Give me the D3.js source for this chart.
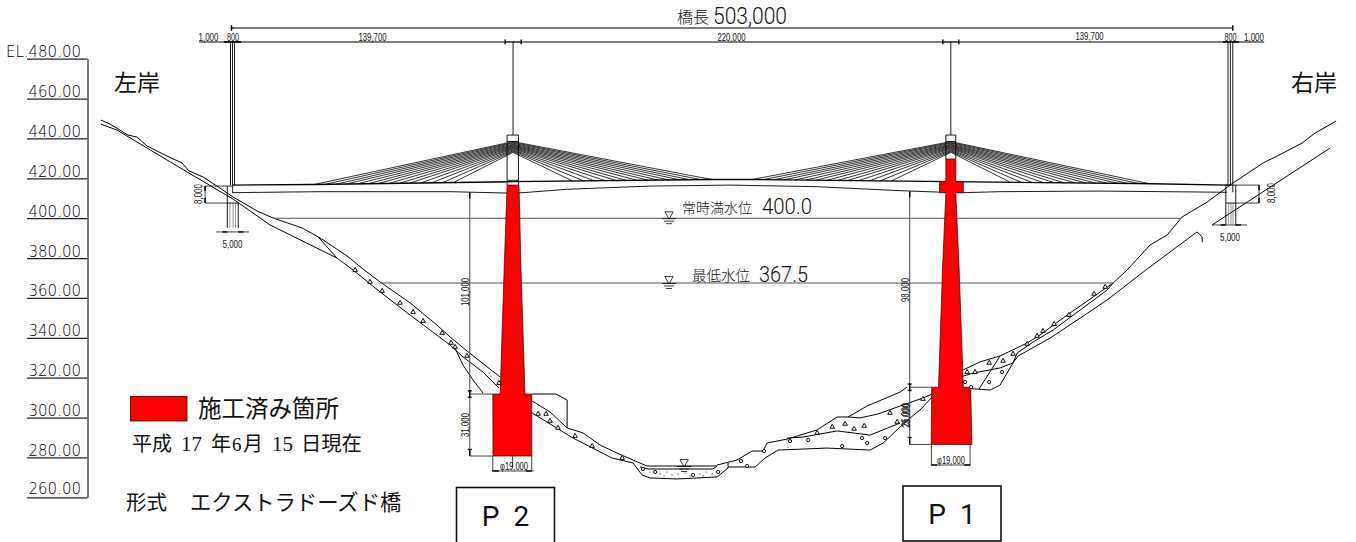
<!DOCTYPE html>
<html lang="ja">
<head>
<meta charset="utf-8">
<title>橋長 503,000</title>
<script src="https://cdn.jsdelivr.net/npm/d3@7"></script>
<style>
  html, body { margin: 0; padding: 0; background: #fff; }
  svg { display: block; }
  text { fill: #111; font-family: "Noto Sans CJK JP", sans-serif; }
  .small { font-family: "Liberation Sans", sans-serif; font-size: 10.5px; }
  .thin { font-family: Roboto, sans-serif; font-weight: 300; }
</style>
</head>
<body>
<svg id="plan" width="1356" height="542"></svg>
<script>
'use strict'

// all series are [station m from left abutment, elevation m]
const elevTicks = [480, 460, 440, 420, 400, 380, 360, 340, 320, 300, 280, 260]

const bankLeftTop = [[-65.7, 449.2], [-61.1, 447.2], [-52.1, 441.7], [-47.5, 440.7], [-42.5, 436.2], [-34.5, 432.2], [-24.9, 427.7], [-21.4, 423.7], [-14.3, 420.7], [-7.3, 416.1], [0.8, 410.6], [12.9, 403.6], [20.9, 400.1], [35.5, 395.1], [44.6, 390.1], [58.2, 381], [66.2, 374.5], [74.8, 368], [89.9, 357.5], [103.4, 346.4], [110, 340.4], [118.5, 333.4], [135.2, 320.3]]
const bankLeftLow = [[-65.7, 447.2], [-57.6, 444.2], [-22.4, 423.2], [0.8, 409.6], [19.4, 396.6], [53.1, 380], [61.2, 374], [74.8, 363], [89.9, 351.4], [110, 336.4], [116.5, 330.4], [126.6, 322.8], [134.6, 314.8]]
const bankLeftShort = [[43.6, 390.6], [53.1, 380]]
const bankLeftRock = [[112.5, 334.9], [116.5, 326.3], [121.6, 318.8], [126.6, 312.3]]

const coveP2 = [[151.3, 311.8], [163.3, 311.8], [168.9, 308.8], [168.9, 294.8]]
const bedLeftTop = [[151.3, 308.3], [160.3, 302.8], [168.9, 294.8], [176.9, 292.3], [185.5, 286.2], [194, 282.2], [202.1, 278.7], [209.1, 275.7]]
const bedLow = [[151.3, 302.3], [171.9, 289.7], [191.5, 279.7], [202.1, 277.2], [206.6, 271.2], [210.6, 269.7], [224.2, 269.2], [244.4, 270.2], [249.9, 274.7], [249.9, 277.2]]
const riverWater = [[209.1, 275.7], [244.4, 275.7]]
const riverBed = [[205.6, 275.2], [209.6, 274.2], [242.3, 274.2], [244.4, 275.7]]

const bedRightTop = [[244.4, 276.2], [254.4, 278.7], [262, 283.2], [267.5, 283.2], [269.5, 287.2], [279.6, 289.2], [294.7, 293.8], [304.8, 300.3], [310.3, 300.3], [319.9, 305.8], [336.5, 312.8], [340, 315.3]]
const bedRightLow = [[249.9, 275.2], [263.5, 275.2], [268.5, 279.7], [275.1, 283.7], [299.7, 284.7], [321.4, 283.7], [327.9, 287.2], [336.5, 295.3], [341.5, 299.8], [346.5, 303.8], [352.6, 310.3]]
const bedRightMid = [[279.6, 289.7], [287.6, 290.2], [304.8, 293.3], [321.4, 291.2], [336.5, 297.3]]
const bedRightUpper = [[310.3, 300.3], [316.3, 299.8], [325.4, 301.8], [336.5, 305.8], [348, 309.8], [352.6, 311.8]]

const bankRightTop = [[368.2, 323.9], [376.7, 327.9], [386.8, 330.9], [400.4, 337.4], [406.9, 341.4], [420.5, 351.4], [443.7, 367.5], [450.7, 374], [462.3, 386.6], [470.9, 391.6], [478.4, 400.6], [491, 408.1], [504.1, 417.7], [519.2, 427.7], [529.2, 432.7], [538.8, 437.7], [545.3, 442.7], [555.9, 448.7]]
const bankRightLow = [[368.2, 314.8], [381.8, 313.8], [386.8, 316.3], [393.3, 327.4], [395.9, 330.9], [412, 339.9], [427.1, 349.9], [440.7, 359], [460.8, 374.5], [485.9, 393.1], [488.5, 390.6], [488.5, 388]]
const bankRightMid = [[368.2, 320.8], [373.2, 322.3], [386.8, 324.9], [393.3, 327.4], [395.4, 332.4], [403.4, 337.9], [413.5, 343.9], [440.7, 364], [443.7, 367.5]]
const bankRightSlip = [[376.2, 314.3], [386.8, 330.9]]
const bankRightRock = [[493.5, 396.6], [552.9, 435.2]]

const gravelTriangles = [[62.2, 374], [69.7, 368], [75.8, 363.5], [84.8, 357.5], [91.4, 352.9], [96.4, 348.4], [106, 342.4], [110.5, 337.4], [112.5, 335.4], [118.5, 330.9], [134.6, 317.3], [154.3, 301.8], [158.3, 301.8], [160.3, 298.3], [164.3, 294.8], [172.9, 290.7], [181.5, 285.7], [196.6, 279.7], [294.7, 292.3], [302.3, 295.3], [308.8, 296.8], [313.3, 294.3], [318.4, 295.8], [331.4, 302.3], [335, 297.8], [348, 309.3], [370.2, 322.8], [374.2, 322.8], [381.3, 327.4], [388.3, 328.4], [393.3, 331.9], [400.4, 336.9], [405.4, 340.9], [408.4, 343.4], [414, 346.9], [421.5, 351.4], [434.1, 362], [439.7, 365.5]]
const gravelCircles = [[207.1, 274.2], [213.2, 272.7], [232.3, 271.2], [244.9, 272.7], [256.4, 278.2], [259.5, 275.7], [268, 283.2], [281.1, 288.2], [290.2, 288.7], [307.3, 285.7], [317.3, 289.7], [319.9, 287.2], [328.9, 289.7], [369.2, 317.8], [372.2, 315.3], [381.3, 317.8], [387.8, 322.8]]
const sandDots = [[210.6, 272.7], [215.7, 271.7], [219.2, 272.7], [221.7, 271.2], [228.3, 272.2], [230.8, 270.7], [235.8, 271.7], [238.8, 272.7], [237.3, 270.7], [241.9, 271.7], [217.7, 270.7], [224.7, 271.7], [129.6, 322.3], [130.6, 320.8], [279.6, 288.7], [280.1, 285.2]]

const deckTop = [[0.3, 416.6], [41, 416.9], [141.2, 418.3], [241.9, 419.4], [262, 419.4], [361.6, 418.3], [455.8, 417.4], [502.6, 416.6]]
const deckBottom = [[0.3, 412.8], [44.6, 413.3], [110, 413.3], [138.7, 412.6], [146.7, 412.8], [168.9, 414.5], [210.6, 416.1], [250.9, 416.6], [294.7, 415.8], [336.5, 413.8], [355.6, 413.1], [368.2, 412.8], [386.8, 413.3], [437.1, 413.6], [501, 413]]

const pylonStations = [141.7, 362]
const cableReach = [30, 35.5, 41, 46.5, 52, 57, 62.5, 68, 73, 78.5, 84, 89, 94.5, 100]
const cableAnchor = [433, 433.4, 433.8, 434.2, 434.7, 435.1, 435.5, 435.9, 436.3, 436.7, 437.1, 437.6, 438, 438.4]

const pierP2 = [[138.7, 416.6], [144.7, 416.6], [145.7, 374], [147.7, 311.8], [151.1, 311.8], [151.1, 280.7], [131.6, 280.7], [131.5, 311.8], [135.2, 311.8], [137.2, 374]]
const pierP1 = [[359.5, 429.7], [364.5, 429.7], [364.5, 418.3], [368.3, 418.3], [368.3, 412.8], [364.5, 412.8], [366.2, 374], [368.3, 315.2], [372, 315.2], [372.6, 286.5], [352.1, 286.5], [352.4, 315.2], [355.8, 315.2], [357.8, 374], [359.5, 412.8], [356.3, 412.8], [356.3, 418.3], [359.5, 418.3]]

// tower outlines and abutments, [s1, e1, s2, e2]
const blackLines = [
  [138.7, 441.7, 144.4, 441.7], [138.7, 441.7, 138.7, 416.6], [144.4, 441.7, 144.4, 416.6],
  [138.7, 438.5, 144.4, 438.5], [138.7, 419, 144.4, 419], [141.7, 488.4, 141.7, 441.7],
  [359.5, 441.7, 364.5, 441.7], [359.5, 441.7, 359.5, 429.7], [364.5, 441.7, 364.5, 429.7],
  [359.5, 438.5, 364.5, 438.5], [362, 488.4, 362, 441.7],
  [-0.5, 488.4, -0.5, 416.6], [0.5, 488.4, 0.5, 416.6], [1.5, 488.4, 1.5, 416.6],
  [501.5, 488.4, 501.5, 416.6], [502.7, 488.4, 502.7, 416.6], [503.9, 488.4, 503.9, 416.6],
  [-2.1, 416.1, 0.6, 416.1], [-2.1, 416.1, -2.1, 407.6], [-2.1, 407.6, 3.4, 407.6], [0.6, 416.1, 0.6, 412.8],
  [-2.1, 407.6, -2.1, 395.1], [3.4, 407.6, 3.4, 395.1],
  [500.4, 416.6, 505.4, 416.6], [500.4, 416.6, 500.4, 407.6], [505.4, 416.6, 505.4, 396.6], [500.4, 407.6, 505.4, 407.6],
  [500.4, 407.6, 500.4, 396.6], [503.9, 416.6, 503.9, 413]
]
const pileLines = [
  [-0.8, 407.6, -0.8, 395.1], [0.8, 407.6, 0.8, 395.1], [2, 407.6, 2, 395.1],
  [501.8, 407.6, 501.8, 396.6], [503, 407.6, 503, 396.6], [504, 407.6, 504, 396.6]
]
const topDimLines = [[0, 495.4, 503.9, 495.4], [-16.3, 488.4, 519.7, 488.4]]
const greyLines = [
  [20.9, 400, 477.4, 400], [74.8, 367.5, 443.7, 367.5],
  [119.9, 412.8, 119.9, 280.7], [119.9, 311.8, 131.5, 311.8], [119.9, 280.7, 131.5, 280.7],
  [341.3, 413.3, 341.3, 286.5], [341.3, 315.2, 352.4, 315.2], [341.3, 286.5, 352.1, 286.5]
]
const leaderLines = [
  [-13.3, 416.1, -2.1, 416.1], [-13.3, 407.6, -2.1, 407.6], [-13.3, 416.1, -13.3, 407.6],
  [505.4, 416.6, 517.1, 416.6], [505.4, 407.6, 517.1, 407.6], [517.1, 416.6, 517.1, 407.6],
  [-7.8, 393.1, 8.8, 393.1], [493.5, 396.6, 511.1, 396.6],
  [131.5, 280.7, 131.5, 273.2], [151.1, 280.7, 151.1, 273.2], [131, 273.2, 152, 273.2], [141.5, 280.7, 141.5, 275],
  [352.2, 286.5, 352.2, 276.2], [371.7, 286.5, 371.7, 276.2], [352, 276.2, 372, 276.2],
  [137.7, 488.4, 145.8, 488.4], [358, 488.4, 366, 488.4], [-3.8, 488.4, 4.8, 488.4], [499, 488.4, 507, 488.4],
  [-0.5, 495.4, 1.5, 495.4]
]
// heavy arrow and bar ends of the dimension lines
const dimEnds = [
  [119.9, 413, 119.9, 410], [118.9, 313.4, 120.9, 313.4], [119.9, 313.4, 119.9, 310.2], [118.9, 310.2, 120.9, 310.2],
  [119.9, 284, 119.9, 280.7], [118.9, 284, 120.9, 284],
  [341.3, 413.5, 341.3, 410.5], [340.3, 316.8, 342.3, 316.8], [341.3, 316.8, 341.3, 313.6], [340.3, 313.6, 342.3, 313.6],
  [341.3, 290, 341.3, 286.5], [340.3, 290, 342.3, 290],
  [137.7, 489.6, 137.7, 487.2], [145.8, 489.6, 145.8, 487.2], [358, 489.6, 358, 487.2], [366, 489.6, 366, 487.2],
  [-3.8, 488.4, 4.8, 488.4], [499, 488.4, 507, 488.4], [0, 496.8, 0, 494], [503.9, 496.8, 503.9, 494],
  [-13.3, 416.1, -13.3, 413.6], [-13.3, 410.2, -13.3, 407.6], [517.1, 416.6, 517.1, 414], [517.1, 410.2, 517.1, 407.6],
  [-4.6, 393.1, -2.1, 393.1], [3.4, 393.1, 6, 393.1], [497.8, 396.6, 500.4, 396.6], [505.4, 396.6, 508, 396.6],
  [131.5, 273.2, 134.5, 273.2], [148.1, 273.2, 151.1, 273.2], [352.2, 276.2, 355.2, 276.2], [368.7, 276.2, 371.7, 276.2]
]
const waterMarks = [[220.2, 400], [220.2, 367.5]]
const riverMark = [227.8, 275.7]

const x = d3.scaleLinear().domain([0, 503]).range([231.5, 1231])
const y = d3.scaleLinear().domain([260, 480]).range([497.3, 58.7])

const svg = d3.select('#plan')
const line = d3.line().x(d => x(d[0])).y(d => y(d[1]))

function drawPolylines (series, width) {
  svg.append('g').selectAll('path').data(series).join('path')
    .attr('d', line)
    .attr('fill', 'none')
    .attr('stroke', '#000')
    .attr('stroke-width', width)
}

function drawSegments (segments, colour, width) {
  svg.append('g').selectAll('line').data(segments).join('line')
    .attr('x1', d => x(d[0])).attr('y1', d => y(d[1]))
    .attr('x2', d => x(d[2])).attr('y2', d => y(d[3]))
    .attr('stroke', colour)
    .attr('stroke-width', width)
}

// elevation staff on the left
const axis = svg.append('g')
  .attr('transform', 'translate(87.5,0)')
  .call(d3.axisLeft(y).tickValues(elevTicks).tickSize(60.5).tickSizeOuter(0).tickFormat(d3.format('.2f')))
axis.select('.domain').attr('stroke', '#222').attr('stroke-width', 1.2)
axis.selectAll('line').attr('stroke', '#222').attr('stroke-width', 1.2)
axis.selectAll('text')
  .attr('x', -6.5)
  .attr('dy', d => d === 260 ? -3.5 : -2)
  .attr('text-anchor', 'end')
  .style('font-family', 'DejaVu Sans')
  .style('font-weight', 200)
  .style('font-size', '15px')
  .style('fill', '#000')
  .text(d => (d === 480 ? 'EL.' : '') + d3.format('.2f')(d))

drawPolylines([bankLeftTop, bankLeftLow, bankLeftShort, bankLeftRock, coveP2, bedLeftTop, bedLow, riverBed,
  bedRightTop, bedRightLow, bedRightMid, bedRightUpper, bankRightTop, bankRightLow, bankRightMid, bankRightSlip, bankRightRock], 1)
drawPolylines([riverWater], 1.2)

drawSegments(topDimLines, '#555', 1.5)
drawSegments(greyLines, '#555', 1.1)
drawSegments(leaderLines, '#111', 0.8)
drawSegments(pileLines, '#555', 0.6)
drawSegments(dimEnds, '#000', 1.4)

// cables hang off the deck top line
const deckAt = d3.scaleLinear().domain(deckTop.map(d => d[0])).range(deckTop.map(d => d[1]))
const cables = []
pylonStations.forEach(s => {
  cableReach.forEach((r, i) => {
    cables.push([s, cableAnchor[i], s - r, deckAt(s - r)])
    cables.push([s, cableAnchor[i], s + r, deckAt(s + r)])
  })
})
drawSegments(cables, '#000', 0.8)

drawPolylines([deckBottom], 0.9)
drawPolylines([deckTop], 1.3)

// concrete already placed
svg.append('g').selectAll('path').data([pierP2, pierP1]).join('path')
  .attr('d', d => line(d) + 'Z')
  .attr('fill', '#ff0000')
  .attr('stroke', '#300')
  .attr('stroke-width', 0.7)

drawSegments(blackLines, '#000', 0.9)

svg.append('g').selectAll('path').data(gravelTriangles).join('path')
  .attr('d', d3.symbol(d3.symbolTriangle, 9))
  .attr('transform', d => `translate(${x(d[0])},${y(d[1])})`)
  .attr('fill', '#fff').attr('stroke', '#000').attr('stroke-width', 0.95)
svg.append('g').selectAll('circle').data(gravelCircles).join('circle')
  .attr('cx', d => x(d[0])).attr('cy', d => y(d[1])).attr('r', 1.6)
  .attr('fill', '#fff').attr('stroke', '#000').attr('stroke-width', 0.95)
svg.append('g').selectAll('circle').data(sandDots).join('circle')
  .attr('cx', d => x(d[0])).attr('cy', d => y(d[1])).attr('r', 0.6)
  .attr('fill', '#222')

// water level symbols
const levelMark = d3.symbol(d3.symbolTriangle, 30)
const marks = svg.append('g').selectAll('g').data(waterMarks.concat([riverMark])).join('g')
  .attr('transform', d => `translate(${x(d[0])},${y(d[1])})`)
marks.append('path')
  .attr('d', levelMark)
  .attr('transform', 'translate(0,-4) rotate(180)')
  .attr('fill', '#fff').attr('stroke', '#000').attr('stroke-width', 0.8)
marks.selectAll('line').data([[7, 0.5], [5, 3], [3, 5.5]]).join('line')
  .attr('x1', d => -d[0]).attr('x2', d => d[0]).attr('y1', d => d[1]).attr('y2', d => d[1])
  .attr('stroke', '#000').attr('stroke-width', 0.8)

// dimension text, squeezed to the narrow CAD lettering
const smallLabels = [
  ['1,000', 208.5, 41], ['800', 233, 41], ['139,700', 372.5, 41], ['220,000', 731.5, 41],
  ['139,700', 1089.5, 40], ['800', 1230.5, 41], ['1,000', 1254, 41], ['5,000', 232.5, 248],
  ['5,000', 1230, 241], ['\u03c619,000', 514, 470], ['\u03c619,000', 951, 464]
]
svg.append('g').selectAll('text').data(smallLabels).join('text')
  .attr('class', 'small')
  .attr('x', d => d[1]).attr('y', d => d[2])
  .attr('text-anchor', 'middle')
  .attr('textLength', d => d[0].length * 4)
  .attr('lengthAdjust', 'spacingAndGlyphs')
  .text(d => d[0])

const sideLabels = [
  ['8,000', 202, 194], ['101,000', 469, 292], ['31,000', 469, 425], ['98,000', 909, 290],
  ['26,000', 909, 415], ['28,000', 909.5, 416], ['8,000', 1275, 193]
]
svg.append('g').selectAll('text').data(sideLabels).join('text')
  .attr('class', 'small')
  .attr('text-anchor', 'middle')
  .attr('textLength', d => d[0].length * 4)
  .attr('lengthAdjust', 'spacingAndGlyphs')
  .attr('transform', d => `translate(${d[1]},${d[2]}) rotate(-90)`)
  .text(d => d[0])

function title (str, px, py, size, weight) {
  svg.append('text').attr('x', px).attr('y', py).style('font-size', size + 'px').style('font-weight', weight).text(str)
}
function level (str, px, py, size, width) {
  svg.append('text').attr('class', 'thin').attr('x', px).attr('y', py)
    .style('font-size', size + 'px')
    .attr('textLength', width).attr('lengthAdjust', 'spacingAndGlyphs')
    .text(str)
}
title('橋長', 677, 23, 16, 300)
level('503,000', 713, 24, 24, 74)
title('常時満水位', 682, 213, 14, 300)
level('400.0', 762, 214, 22, 50)
title('最低水位', 692, 281, 14.5, 300)
level('367.5', 759, 282, 22, 49)
title('左岸', 114, 91, 23, 400)
title('右岸', 1291, 91, 23, 400)
title('施工済み箇所', 198, 417, 23.5, 400)

svg.append('rect')
  .attr('x', 130.5).attr('y', 396.5).attr('width', 56.5).attr('height', 24.5)
  .attr('fill', '#ff0000').attr('stroke', '#400').attr('stroke-width', 0.8)

// date line, CJK with serif digits, each run placed where the reference has it
const dateRuns = [['平成', 132, 20, 0], ['17', 181, 21, 1], ['年', 211, 20, 0], ['6', 232, 19, 1], ['月', 243, 20, 0], ['15', 272, 21, 1], ['日現在', 301, 20.3, 0]]
svg.append('g').selectAll('text').data(dateRuns).join('text')
  .attr('x', d => d[1]).attr('y', 451)
  .style('font-size', d => d[2] + 'px')
  .style('font-family', d => d[3] ? 'Liberation Serif' : null)
  .text(d => d[0])

svg.append('text').attr('x', 126).attr('y', 510).style('font-size', '20.5px').text('形式')
svg.append('text').attr('x', 190).attr('y', 510).style('font-size', '21.3px').text('エクストラドーズド橋')

// pier name boxes
const pierBoxes = [['P 2', 456.5, 487.5, 98, 56], ['P 1', 903, 486, 98, 55]]
const boxes = svg.append('g').selectAll('g').data(pierBoxes).join('g')
boxes.append('rect')
  .attr('x', d => d[1]).attr('y', d => d[2]).attr('width', d => d[3]).attr('height', d => d[4])
  .attr('fill', '#fff').attr('stroke', '#111').attr('stroke-width', 1.6)
boxes.append('text')
  .attr('x', d => d[1] + d[3] / 2).attr('y', d => d[2] + 38)
  .attr('text-anchor', 'middle')
  .style('font-family', 'Roboto, sans-serif').style('font-size', '28px').style('font-weight', 400)
  .text(d => d[0].replace(' ', '\u00a0\u00a0'))
</script>
</body>
</html>
